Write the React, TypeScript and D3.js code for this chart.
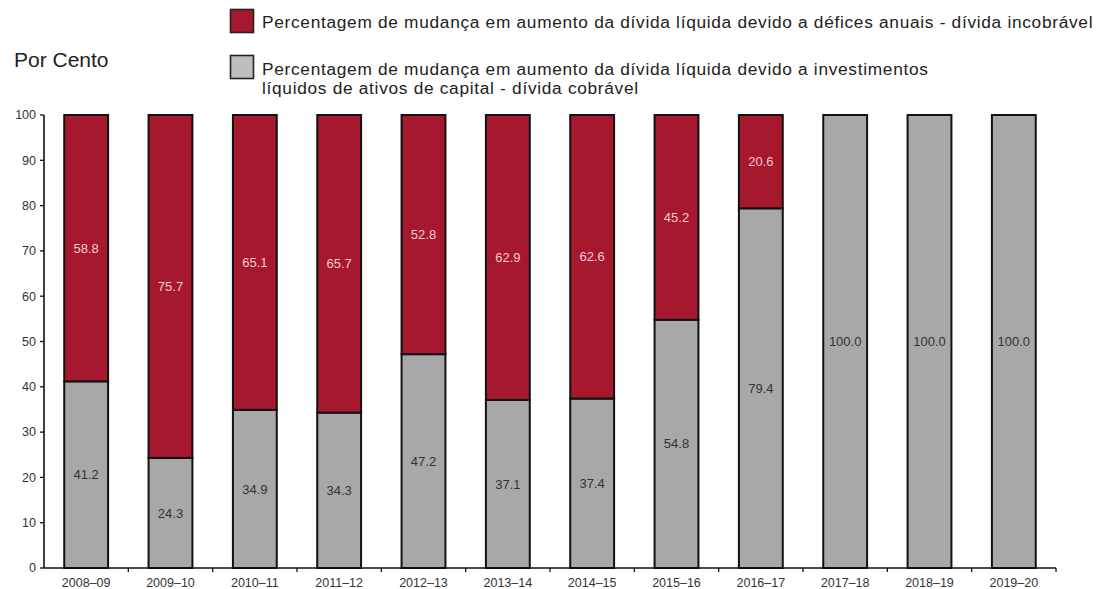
import React from "react";
import * as d3 from "d3";

const categories = ["2008–09","2009–10","2010–11","2011–12","2012–13","2013–14","2014–15","2015–16","2016–17","2017–18","2018–19","2019–20"];
const capitalValues = [41.2, 24.3, 34.9, 34.3, 47.2, 37.1, 37.4, 54.8, 79.4, 100.0, 100.0, 100.0];
const deficitValues = [58.8, 75.7, 65.1, 65.7, 52.8, 62.9, 62.6, 45.2, 20.6, 0, 0, 0];
const yTicks = [0, 10, 20, 30, 40, 50, 60, 70, 80, 90, 100];
const legendDeficit = "Percentagem de mudança em aumento da dívida líquida devido a défices anuais - dívida incobrável";
const legendCapital1 = "Percentagem de mudança em aumento da dívida líquida devido a investimentos";
const legendCapital2 = "líquidos de ativos de capital - dívida cobrável";
const yTitle = "Por Cento";

const RED = "#a6182e";
const GREY = "#a8a8a8";
const FONT = "'Liberation Sans', Arial, sans-serif";

export default function App() {
  const W = 1102, H = 589;
  const left = 44, right = 1056, top = 115, bottom = 568;
  const x = d3.scaleBand<string>().domain(categories).range([left, right]).paddingInner(0.48).paddingOuter(0.24);
  const xb = d3.scaleBand<string>().domain(categories).range([left, right]);
  const y = d3.scaleLinear().domain([0, 100]).range([bottom, top]);
  const bw = x.bandwidth();
  const lg = { fontSize: 17.3, letterSpacing: 0.7, fill: "#222" };

  return (
    <svg width={W} height={H} style={{ position: "absolute", left: 0, top: 0, background: "#fff" }} fontFamily={FONT}>
      {/* legend */}
      <rect x={230.5} y={9.5} width={23} height={23} fill={RED} stroke="#222" strokeWidth={1.6} />
      <text x={262} y={28} {...lg}>{legendDeficit}</text>
      <rect x={230.5} y={55.5} width={23} height={23} fill="#bdbdbd" stroke="#222" strokeWidth={1.6} />
      <text x={262} y={75} {...lg}>{legendCapital1}</text>
      <text x={262} y={94} {...lg}>{legendCapital2}</text>
      <text x={14} y={67} fontSize={21} fill="#222">{yTitle}</text>

      {/* bars */}
      {categories.map((c, i) => {
        const g = capitalValues[i];
        const r = deficitValues[i];
        const bx = x(c)!;
        const cx = bx + bw / 2;
        return (
          <g key={c}>
            <rect x={bx} y={y(g)} width={bw} height={y(0) - y(g)} fill={GREY} stroke="#111" strokeWidth={2} />
            {r > 0 && (
              <rect x={bx} y={y(g + r)} width={bw} height={y(g) - y(g + r)} fill={RED} stroke="#111" strokeWidth={2} />
            )}
            <text x={cx} y={y(g / 2)} dy="0.35em" textAnchor="middle" fontSize={13} fill="#333">
              {g.toFixed(1)}
            </text>
            {r > 0 && (
              <text x={cx} y={y(g + r / 2)} dy="0.35em" textAnchor="middle" fontSize={13} fill="#f6c9d2">
                {r.toFixed(1)}
              </text>
            )}
          </g>
        );
      })}

      {/* y axis */}
      <line x1={left} x2={left} y1={top} y2={bottom} stroke="#111" strokeWidth={1.6} />
      {yTicks.map((t) => (
        <g key={t}>
          <line x1={left - 4} x2={left} y1={y(t)} y2={y(t)} stroke="#111" strokeWidth={1.3} />
          <text x={left - 8} y={y(t)} dy="0.35em" textAnchor="end" fontSize={12.5} fill="#333">{t}</text>
        </g>
      ))}

      {/* x axis */}
      <line x1={left} x2={right} y1={bottom} y2={bottom} stroke="#111" strokeWidth={1.6} />
      {categories.map((c) => (
        <line key={"t" + c} x1={xb(c)! + xb.bandwidth()} x2={xb(c)! + xb.bandwidth()} y1={bottom} y2={bottom + 4} stroke="#111" strokeWidth={1.3} />
      ))}
      {categories.map((c) => (
        <text key={"l" + c} x={x(c)! + bw / 2} y={587} textAnchor="middle" fontSize={12.5} fill="#333">{c}</text>
      ))}
    </svg>
  );
}
